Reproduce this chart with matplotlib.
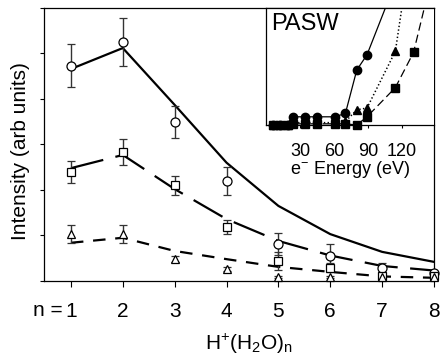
import numpy as np
import matplotlib
matplotlib.use('Agg')
import matplotlib.pyplot as plt

plt.rcParams['font.family'] = ['Liberation Sans', 'DejaVu Sans']
plt.rcParams['mathtext.fontset'] = 'custom'
plt.rcParams['mathtext.rm'] = 'Liberation Sans'
plt.rcParams['mathtext.it'] = 'Liberation Sans:italic'
plt.rcParams['lines.scale_dashes'] = False

# main panel data: cluster size n
n = [1, 2, 3, 4, 5, 6, 7, 8]
circ = [4.73, 5.25, 3.49, 2.20, 0.81, 0.55, 0.29, 0.18]
circ_err = [0.47, 0.52, 0.35, 0.31, 0.24, 0.26, 0.10, 0.05]
sq = [2.40, 2.84, 2.10, 1.19, 0.44, 0.29, 0.11, 0.11]
sq_err = [0.24, 0.29, 0.20, 0.15, 0.20, 0.10, 0.05, 0.05]
tri = [1.03, 1.03, 0.48, 0.26, 0.09, 0.09, 0.09, 0.09]
tri_err = [0.20, 0.20, 0.06, 0.05, 0.03, 0.03, 0.03, 0.03]

# model curves
fit_solid = [4.66, 5.12, 3.87, 2.60, 1.65, 1.03, 0.64, 0.42]
fit_long = [2.48, 2.77, 2.02, 1.36, 0.88, 0.56, 0.33, 0.23]
fit_short = [0.84, 0.95, 0.66, 0.48, 0.31, 0.20, 0.10, 0.07]

# inset (PASW) data: electron energy (eV)
in_circ_e = [6, 12, 19, 24, 34, 45, 61, 70, 80, 89, 106]
in_circ_v = [0, 0, 0, 0.7, 0.7, 0.7, 0.7, 1.0, 4.7, 6.0, 10.2]
in_tri_e = [6, 12, 19, 24, 34, 45, 61, 70, 80, 89, 114, 120]
in_tri_v = [0, 0, 0, 0.2, 0.2, 0.2, 0.2, 0.3, 1.3, 1.45, 6.3, 10.2]
in_sq_e = [6, 12, 19, 24, 34, 45, 61, 70, 80, 89, 114, 130, 140]
in_sq_v = [0, 0, 0, 0.1, 0.1, 0.1, 0.1, 0.1, 0, 0.7, 3.2, 6.2, 10.2]
n_circ_pts = 10
n_tri_pts = 11
n_sq_pts = 12

fig = plt.figure(figsize=(4.42, 3.62), dpi=100)
ax = fig.add_axes([0.0995, 0.2238, 0.8824, 0.7541])

ax.plot(n, fit_solid, color='black', lw=1.6, zorder=2)
ax.plot(n, fit_long, color='black', lw=1.6, dashes=(24, 9), zorder=2)
ax.plot(n, fit_short, color='black', lw=1.6, dashes=(9, 7), zorder=2)

ekw = dict(ecolor='#333333', elinewidth=1, capsize=3, capthick=1, ls='none',
           mec='black', mfc='white', mew=0.9, zorder=3, clip_on=False)
ax.errorbar(n, circ, yerr=circ_err, fmt='o', ms=6.5, **ekw)
ax.errorbar(n, sq, yerr=sq_err, fmt='s', ms=5.5, **ekw)
ax.errorbar(n, tri, yerr=tri_err, fmt='^', ms=6, **ekw)

ax.set_xlim(0.48, 8.0)
ax.set_ylim(0, 6)
ax.set_xticks(n)
ax.set_xticklabels([str(i) for i in n], fontsize=15)
ax.set_yticks(range(7))
ax.set_yticklabels([])
ax.tick_params(axis='x', direction='out', length=4, width=0.8, pad=11)
ax.tick_params(axis='y', direction='out', length=3, width=0.8)
for s in ax.spines.values():
    s.set_linewidth(0.9)
ax.annotate('n =', xy=(1, 0), xycoords=('data', 'axes fraction'),
            xytext=(-6, -14.5), textcoords='offset points',
            ha='right', va='top', fontsize=15)
ax.set_xlabel(r'H$^{+}$(H$_2$O)$_\mathrm{n}$', fontsize=15)
ax.xaxis.set_label_coords(0.525, -0.185)
ax.set_ylabel('Intensity (arb units)', fontsize=15)
ax.yaxis.set_label_coords(-0.036, 0.476)

# inset
axin = fig.add_axes([0.6018, 0.6547, 0.380, 0.3232])
axin.plot(in_circ_e, in_circ_v, color='black', lw=0.9)
axin.plot(in_tri_e, in_tri_v, color='black', lw=1.1, ls=':')
axin.plot(in_sq_e, in_sq_v, color='black', lw=0.9, dashes=(6, 3))
axin.plot(in_sq_e[:n_sq_pts], in_sq_v[:n_sq_pts], 's', color='black', ms=5.5, clip_on=False)
axin.plot(in_tri_e[:n_tri_pts], in_tri_v[:n_tri_pts], '^', color='black', ms=6, clip_on=False)
axin.plot(in_circ_e[:n_circ_pts], in_circ_v[:n_circ_pts], 'o', color='black', ms=6, clip_on=False)
axin.set_xlim(0, 148)
axin.set_ylim(0, 10)
axin.set_xticks([30, 60, 90, 120])
axin.set_xticklabels(['30', '60', '90', '120'], fontsize=13)
axin.set_yticks([])
axin.tick_params(axis='x', direction='out', length=2, width=0.8, pad=11)
axin.spines['right'].set_visible(False)
for s in axin.spines.values():
    s.set_linewidth(0.9)
axin.set_xlabel(r'e$^{-}$ Energy (eV)', fontsize=13, labelpad=-1)
axin.text(0.03, 0.96, 'PASW', transform=axin.transAxes, fontsize=17,
          ha='left', va='top')

fig.savefig('out.png', dpi=100)
